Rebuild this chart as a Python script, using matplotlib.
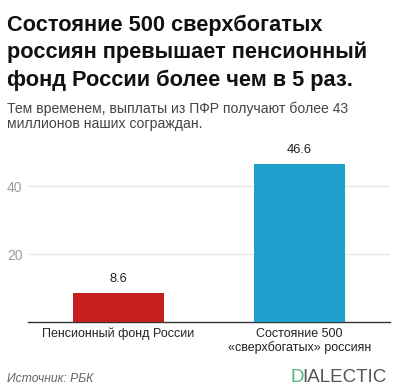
import matplotlib.pyplot as plt

plt.rcParams['font.family'] = ['Liberation Sans', 'DejaVu Sans']

# data
categories = ["Пенсионный фонд России", "Состояние 500\n«сверхбогатых» россиян"]
values = [8.6, 46.6]
colors = ["#c41e1e", "#1ea0cc"]
yticks = [20, 40]
title_lines = ["Состояние 500 сверхбогатых",
               "россиян превышает пенсионный",
               "фонд России более чем в 5 раз."]
subtitle_lines = ["Тем временем, выплаты из ПФР получают более 43",
                  "миллионов наших сограждан."]

fig = plt.figure(figsize=(3.97, 3.90), dpi=100)
W, H = 397, 390
ax = fig.add_axes([28 / W, 1 - 322 / H, 362 / W, 170 / H])

x = range(len(values))
ax.bar(x, values, width=0.505, color=colors, zorder=3)
for xi, v in zip(x, values):
    ax.text(xi, v + 2.2, f"{v}", ha="center", va="bottom", fontsize=9.3, color="#222222")

ax.set_xlim(-0.5, 1.5)
ax.set_ylim(0, 50)
ax.set_yticks(yticks)
ax.set_xticks(list(x))
ax.set_xticklabels(categories, fontsize=9, color="#222222")
ax.tick_params(axis="x", length=0, pad=4)
ax.tick_params(axis="y", length=0, pad=4, labelsize=10, labelcolor="#9a9a9a")
ax.grid(axis="y", color="#e6e6e6", linewidth=1, zorder=0)
for s in ["top", "right", "left"]:
    ax.spines[s].set_visible(False)
ax.spines["bottom"].set_color("#333333")
ax.spines["bottom"].set_linewidth(1)

# titles
for i, line in enumerate(title_lines):
    fig.text(7 / W, 1 - (31 + 27.3 * i) / H, line, fontsize=15.7, fontweight="bold",
             color="#111111", va="baseline", ha="left")
for i, line in enumerate(subtitle_lines):
    fig.text(7 / W, 1 - (113 + 15 * i) / H, line, fontsize=10.1,
             color="#444444", va="baseline", ha="left")

fig.text(7 / W, 1 - 379 / H, "Источник: РБК", fontsize=8.7, style="italic",
         color="#666666", va="center", ha="left")
fig.text(290 / W, 1 - 378 / H, "D", fontsize=13.5, color="#4db883", va="center", ha="left")
fig.text(302.5 / W, 1 - 378 / H, "IALECTIC", fontsize=13.5, color="#555555", va="center", ha="left")

plt.savefig("out.png", dpi=100)
